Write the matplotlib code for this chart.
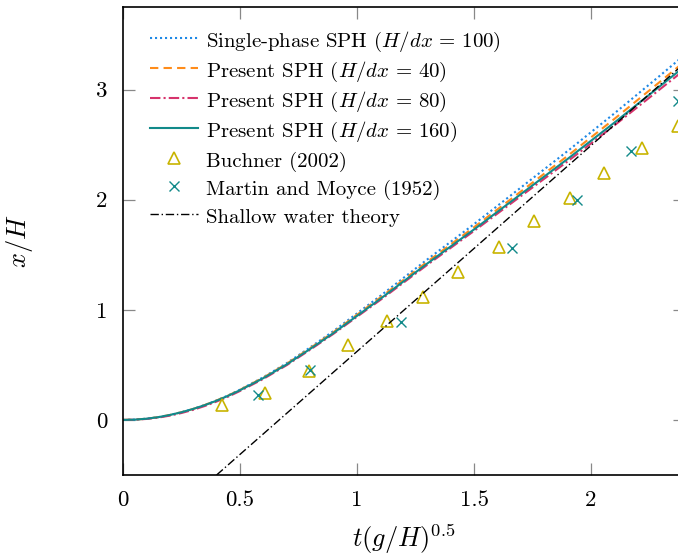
import matplotlib
matplotlib.use("Agg")
import matplotlib.pyplot as plt

plt.rcParams['font.family'] = 'serif'
plt.rcParams['font.serif'] = ['cmr10']
plt.rcParams['mathtext.fontset'] = 'cm'
plt.rcParams['axes.formatter.use_mathtext'] = True

# ---- data ----
t = [0.0, 0.05, 0.1, 0.15, 0.2, 0.25, 0.3, 0.35, 0.4, 0.45, 0.5,
     0.6, 0.7, 0.8, 0.9, 1.0, 1.1, 1.2, 1.3, 1.4, 1.5, 1.6, 1.7, 1.8,
     1.9, 2.0, 2.1, 2.2, 2.3, 2.4]
sph160 = [0, 0.003, 0.011, 0.025, 0.045, 0.07, 0.10, 0.135, 0.175, 0.22, 0.27,
          0.38, 0.505, 0.645, 0.79, 0.945, 1.10, 1.26, 1.42, 1.575, 1.73, 1.89,
          2.05, 2.21, 2.37, 2.535, 2.70, 2.87, 3.04, 3.21]
sph80 = [0, 0.002, 0.009, 0.021, 0.039, 0.063, 0.092, 0.127, 0.167, 0.212, 0.263,
         0.373, 0.498, 0.638, 0.783, 0.937, 1.09, 1.249, 1.408, 1.562, 1.716, 1.874,
         2.032, 2.19, 2.348, 2.511, 2.675, 2.843, 3.012, 3.18]
sph40 = [0, 0.003, 0.011, 0.025, 0.045, 0.07, 0.10, 0.136, 0.177, 0.222, 0.273,
         0.385, 0.511, 0.652, 0.798, 0.955, 1.112, 1.274, 1.436, 1.593, 1.75, 1.912,
         2.074, 2.236, 2.398, 2.566, 2.734, 2.907, 3.08, 3.255]
single100 = [0, 0.003, 0.011, 0.025, 0.045, 0.07, 0.10, 0.136, 0.177, 0.223, 0.275,
             0.388, 0.516, 0.659, 0.808, 0.967, 1.127, 1.292, 1.457, 1.617, 1.778, 1.944,
             2.11, 2.276, 2.442, 2.613, 2.784, 2.96, 3.136, 3.315]

buchner_t = [0.423, 0.607, 0.795, 0.962, 1.128, 1.282, 1.432, 1.607, 1.756, 1.91, 2.056, 2.218, 2.37]
buchner_x = [0.136, 0.245, 0.44, 0.68, 0.90, 1.115, 1.34, 1.57, 1.81, 2.02, 2.24, 2.466, 2.67]

mm_t = [0.577, 0.80, 1.19, 1.662, 1.94, 2.17, 2.37]
mm_x = [0.227, 0.45, 0.89, 1.56, 1.995, 2.44, 2.90]

sw_t = [0.40, 2.40]
sw_x = [-0.5, 3.24]

xticks = [0, 0.5, 1, 1.5, 2]
xticklabels = ['0', '0.5', '1', '1.5', '2']
yticks = [0, 1, 2, 3]
yticklabels = ['0', '1', '2', '3']

# ---- figure ----
fig = plt.figure(figsize=(6.78, 5.55), dpi=100)
ax = fig.add_axes([123/678, 1-475/555, 561.6/678, 468/555])

c_blue = '#1e88e5'
c_orange = '#ff8c1a'
c_pink = '#d6336c'
c_teal = '#128a8a'
c_yellow = '#c8b400'

ax.plot(t, single100, color=c_blue, linestyle=(0, (1, 1.4)), lw=1.5,
        label=r'Single-phase SPH ($H/dx\,=\,100$)')
ax.plot(t, sph40, color=c_orange, linestyle=(0, (4, 2.5)), lw=1.5,
        label=r'Present SPH ($H/dx\,=\,40$)')
ax.plot(t, sph80, color=c_pink, linestyle=(0, (5, 1.5, 1, 1.5)), lw=1.5,
        label=r'Present SPH ($H/dx\,=\,80$)')
ax.plot(t, sph160, color=c_teal, linestyle='-', lw=1.5,
        label=r'Present SPH ($H/dx\,=\,160$)')
ax.plot(buchner_t, buchner_x, linestyle='none', marker='^', markersize=9,
        markerfacecolor='none', markeredgecolor=c_yellow, markeredgewidth=1.2,
        label='Buchner (2002)', clip_on=False)
ax.plot(mm_t, mm_x, linestyle='none', marker='x', markersize=7,
        color=c_teal, markeredgewidth=1.0,
        label='Martin and Moyce (1952)', clip_on=False)
ax.plot(sw_t, sw_x, color='black', linestyle=(0, (6, 2, 1, 2)), lw=1.0,
        label='Shallow water theory')

ax.set_xlim(0, 2.4)
ax.set_ylim(-0.5, 3.75)
ax.set_xticks(xticks)
ax.set_xticklabels(xticklabels)
ax.set_yticks(yticks)
ax.set_yticklabels(yticklabels)
ax.tick_params(direction='in', length=8.5, width=0.9, color='#888888',
               top=True, right=True, labelsize=16.5, pad=11)
for s in ax.spines.values():
    s.set_linewidth(1.2)

ax.set_xlabel(r'$t(g/H)^{0.5}$', fontsize=19, labelpad=9)
ax.set_ylabel(r'$x/H$', fontsize=19, labelpad=44)

leg = ax.legend(loc='upper left', frameon=False, fontsize=15,
                handlelength=2.3, handletextpad=0.38, labelspacing=0.22,
                handleheight=1.3,
                bbox_to_anchor=(0.034, 0.971), borderaxespad=0.0)

fig.savefig('out.png', dpi=100)
